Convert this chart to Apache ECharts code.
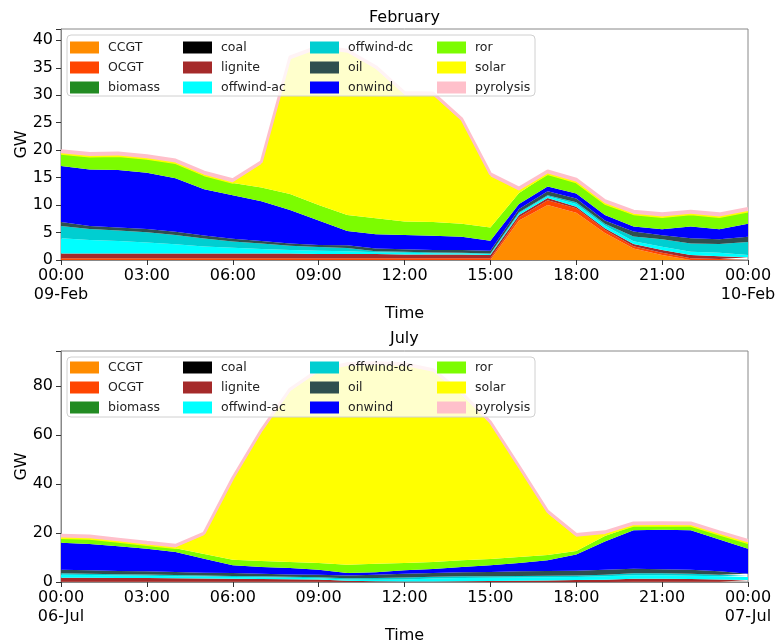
<!DOCTYPE html>
<html>
<head>
<meta charset="UTF-8">
<title>Dispatch February / July</title>
<script src="https://cdn.jsdelivr.net/npm/echarts@6.0.0/dist/echarts.min.js"></script>
<style>
  html, body { margin: 0; padding: 0; background: #fff; }
  #main { width: 776px; height: 643px; }
</style>
</head>
<body>
<div id="main"></div>
<script>
// hourly time steps, 00:00 to 00:00 next day
var hours = ['00:00','01:00','02:00','03:00','04:00','05:00','06:00','07:00','08:00','09:00','10:00','11:00',
             '12:00','13:00','14:00','15:00','16:00','17:00','18:00','19:00','20:00','21:00','22:00','23:00','00:00'];
var febDates = ['09-Feb', '10-Feb'];
var julDates = ['06-Jul', '07-Jul'];

var carriers = ['CCGT','OCGT','biomass','coal','lignite','offwind-ac','offwind-dc','oil','onwind','ror','solar','pyrolysis'];
var colors = ['#ff8c00','#ff4500','#228b22','#000000','#a52a2a','#00ffff','#00ced1','#2f4f4f','#0000ff','#7cfc00','#ffff00','#ffc0cb'];

// February, GW
var febCCGT = [0,0,0,0,0,0,0,0,0,0,0,0,0,0,0,0,7.2,10.0,8.6,4.9,2.1,0.9,0,0,0];
var febOCGT = [0.3,0.3,0.3,0.3,0.3,0.3,0.3,0.3,0.3,0.3,0.3,0.3,0.3,0.3,0.3,0.3,0.6,0.9,0.8,0.6,0.4,0.4,0.3,0.2,0.2];
var febBiomass = [0,0,0,0,0,0,0,0,0,0,0,0,0,0,0,0,0,0,0,0,0,0,0,0,0];
var febCoal = [0,0,0,0,0,0,0,0,0,0,0,0,0,0,0,0,0,0,0,0,0,0,0,0,0];
var febLignite = [0.9,0.9,0.9,0.9,0.9,0.9,0.9,0.9,0.9,0.8,0.8,0.8,0.7,0.7,0.7,0.6,0.4,0.4,0.3,0.3,0.4,0.5,0.6,0.5,0.3];
var febOffAC = [2.75,2.45,2.25,2.0,1.65,1.25,1.05,0.8,0.6,0.6,0.5,0.3,0.3,0.25,0.2,0.2,0.3,0.3,0.5,0.5,0.5,0.6,0.6,0.6,0.4];
var febOffDC = [2.25,2.0,1.9,1.85,1.7,1.45,1.1,1.0,0.8,0.65,0.6,0.2,0.2,0.1,0.1,0.1,0.2,0.2,0.3,0.3,0.9,1.4,1.5,1.6,2.4];
var febOil = [0.7,0.55,0.55,0.6,0.6,0.55,0.5,0.45,0.4,0.4,0.5,0.5,0.45,0.45,0.5,0.5,0.6,0.7,0.7,0.6,0.9,0.7,0.95,0.9,0.95];
var febOnwind = [10.2,10.3,10.5,10.25,9.75,8.45,7.95,7.25,6.1,4.45,2.6,2.6,2.6,2.6,2.45,1.8,0.9,0.9,0.9,1.0,0.9,1.1,2.15,1.8,2.35];
var febRor = [2.2,2.3,2.5,2.5,2.7,2.5,2.2,2.5,2.9,2.8,2.9,2.9,2.45,2.5,2.35,2.4,2.0,2.2,2.0,2.0,2.2,2.2,2.2,2.2,2.2];
var febSolar = [0,0,0,0,0,0,0,4.1,24.4,28.3,29.4,27.0,22.9,22.9,18.5,9.2,0.3,0,0,0,0,0,0,0,0];
var febPyrolysis = [0.6,0.6,0.6,0.6,0.6,0.6,0.6,0.6,0.6,0.6,0.6,0.6,0.6,0.6,0.6,0.6,0.6,0.6,0.6,0.6,0.6,0.6,0.6,0.6,0.6];

// July, GW
var julCCGT = [0,0,0,0,0,0,0,0,0,0,0,0,0,0,0,0,0,0,0,0,0,0,0,0,0];
var julOCGT = [0.1,0.1,0.1,0.1,0.1,0.1,0.1,0.1,0.1,0.1,0,0,0,0,0,0,0,0,0,0,0.1,0.1,0.1,0.1,0.1];
var julBiomass = [0,0,0,0,0,0,0,0,0,0,0,0,0,0,0,0,0,0,0,0,0,0,0,0,0];
var julCoal = [0,0,0,0,0,0,0,0,0,0,0,0,0,0,0,0,0,0,0,0,0,0,0,0,0];
var julLignite = [1.6,1.6,1.5,1.5,1.4,1.3,1.2,1.1,1.0,0.9,0.5,0.3,0.2,0.2,0.3,0.4,0.5,0.6,0.8,0.9,1.2,1.2,1.1,0.9,0.7];
var julOffAC = [1.3,1.2,1.1,1.0,0.9,0.8,0.7,0.7,0.6,0.5,0.5,0.6,0.8,1.2,1.3,1.3,1.3,1.3,1.2,1.4,1.5,1.5,1.4,1.3,1.2];
var julOffDC = [0.6,0.5,0.5,0.5,0.5,0.5,0.5,0.4,0.4,0.4,0.5,0.7,0.8,0.7,0.7,0.7,0.7,0.7,0.7,0.7,0.8,0.8,0.8,0.7,0.6];
var julOil = [1.4,1.4,1.3,1.3,1.2,1.1,1.2,1.1,1.0,1.1,1.2,1.4,1.6,1.6,1.7,1.7,1.9,1.9,1.9,2.0,1.8,1.6,1.6,1.4,0.8];
var julOnwind = [11.0,10.7,10.1,9.2,8.2,5.7,3.1,2.7,2.6,2.0,1.0,1.0,1.4,1.6,2.1,2.7,3.4,4.4,6.6,11.5,15.7,16.2,16.1,13.0,10.2];
var julRor = [1.9,2.1,1.7,1.4,1.5,1.9,2.3,2.5,2.5,2.8,3.4,3.5,3.0,2.9,2.8,2.6,2.4,2.1,1.5,2.3,1.8,1.6,1.8,1.9,2.2];
var julSolar = [0,0,0,0,0,7.4,32.2,52.3,69.4,77.8,80.9,80.9,80.2,77.4,67.2,54.8,35.9,16.7,5.5,0.5,0,0,0,0,0];
var julPyrolysis = [1.2,1.2,1.2,1.2,1.2,1.2,1.2,1.2,1.2,1.2,1.2,1.2,1.2,1.2,1.2,1.2,1.2,1.2,1.2,1.2,1.2,1.2,1.2,1.2,1.2];

var febData = [febCCGT, febOCGT, febBiomass, febCoal, febLignite, febOffAC, febOffDC, febOil, febOnwind, febRor, febSolar, febPyrolysis];
var julData = [julCCGT, julOCGT, julBiomass, julCoal, julLignite, julOffAC, julOffDC, julOil, julOnwind, julRor, julSolar, julPyrolysis];

var font = 'DejaVu Sans';
var chart = echarts.init(document.getElementById('main'));

function makeSeries(data, idx, stackName) {
  return carriers.map(function (name, i) {
    var lw = 0;
    if (name === 'solar') lw = 1.5;
    if (name === 'pyrolysis') lw = 3;
    return {
      name: name,
      type: 'line',
      stack: stackName,
      xAxisIndex: idx,
      yAxisIndex: idx,
      data: data[i],
      symbol: 'none',
      showSymbol: false,
      lineStyle: { width: lw, color: colors[i] },
      itemStyle: { color: colors[i] },
      areaStyle: { color: colors[i], opacity: 1 },
      emphasis: { disabled: true },
      animation: false
    };
  });
}

function makeXAxis(idx, dates) {
  return {
    type: 'category',
    gridIndex: idx,
    data: hours,
    boundaryGap: false,
    name: 'Time',
    nameLocation: 'middle',
    nameGap: 46,
    nameMoveOverlap: false,
    nameTextStyle: { fontFamily: font, fontSize: 16, color: '#000' },
    axisLine: { lineStyle: { color: '#888' } },
    axisTick: { interval: 2, length: 5, lineStyle: { color: '#333' } },
    axisLabel: {
      interval: 2, margin: 6, fontFamily: font, fontSize: 16, color: '#000', lineHeight: 19,
      formatter: function (v, i) {
        if (i === 0) return v + '\n' + dates[0];
        if (i === hours.length - 1) return v + '\n' + dates[1];
        return v;
      }
    },
    splitLine: { show: false }
  };
}

function makeYAxis(idx, max, step) {
  return {
    type: 'value',
    gridIndex: idx,
    min: 0,
    max: max,
    interval: step,
    name: 'GW',
    nameLocation: 'middle',
    nameGap: 31,
    nameMoveOverlap: false,
    nameTextStyle: { fontFamily: font, fontSize: 16, color: '#000' },
    axisLine: { show: true, lineStyle: { color: '#888' } },
    axisTick: { show: true, length: 5, lineStyle: { color: '#333' } },
    axisLabel: {
      margin: 8, fontFamily: font, fontSize: 16, color: '#000',
      formatter: function (v) { return v % step === 0 ? String(v) : ''; }
    },
    splitLine: { show: false }
  };
}

// legend: 4 columns x 3 rows, filled column by column
var legendCols = [[0, 1, 2], [3, 4, 5], [6, 7, 8], [9, 10, 11]];
var legendLeft = [70, 183, 310, 437];
function makeLegends(top) {
  return legendCols.map(function (col, c) {
    return {
      data: col.map(function (i) { return carriers[i]; }),
      orient: 'vertical',
      left: legendLeft[c],
      top: top,
      padding: 0,
      itemWidth: 29,
      itemHeight: 12,
      itemGap: 7,
      icon: 'rect',
      z: 20,
      selectedMode: false,
      itemStyle: { borderWidth: 0 },
      textStyle: { fontFamily: font, fontSize: 12.5, color: '#222', lineHeight: 12, padding: [0, 0, 0, 4] }
    };
  });
}

var option = {
  backgroundColor: '#fff',
  animation: false,
  title: [
    { text: 'February', left: 369, top: 10, padding: 0,
      textStyle: { fontFamily: font, fontSize: 16, fontWeight: 'normal', color: '#000' } },
    { text: 'July', left: 390, top: 331, padding: 0,
      textStyle: { fontFamily: font, fontSize: 16, fontWeight: 'normal', color: '#000' } }
  ],
  grid: [
    { left: 61, right: 28, top: 29, height: 231, show: true, borderColor: '#888', borderWidth: 1,
      containLabel: false, outerBoundsMode: 'none' },
    { left: 61, right: 28, top: 351, height: 231, show: true, borderColor: '#888', borderWidth: 1,
      containLabel: false, outerBoundsMode: 'none' }
  ],
  xAxis: [makeXAxis(0, febDates), makeXAxis(1, julDates)],
  yAxis: [makeYAxis(0, 42.06, 5), makeYAxis(1, 94.4, 20)],
  legend: makeLegends(41).concat(makeLegends(361)),
  graphic: [
    { type: 'rect', z: 10, shape: { x: 67, y: 35, width: 468, height: 61, r: 4 },
      style: { fill: 'rgba(255,255,255,0.8)', stroke: '#d0d0d0', lineWidth: 1 } },
    { type: 'rect', z: 10, shape: { x: 67, y: 357, width: 468, height: 60, r: 4 },
      style: { fill: 'rgba(255,255,255,0.8)', stroke: '#d0d0d0', lineWidth: 1 } }
  ],
  series: makeSeries(febData, 0, 'feb').concat(makeSeries(julData, 1, 'jul'))
};

chart.setOption(option);
</script>
</body>
</html>
